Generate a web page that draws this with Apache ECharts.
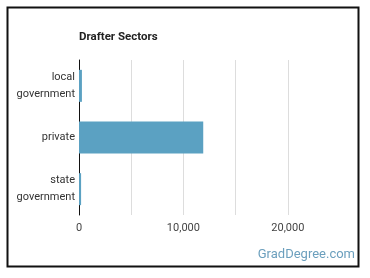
<!DOCTYPE html>
<html>
<head>
<meta charset="utf-8">
<script src="https://cdn.jsdelivr.net/npm/echarts@6/dist/echarts.min.js"></script>
<style>
  html, body { margin: 0; padding: 0; background: #fff; }
  #chart { width: 370px; height: 278px; }
</style>
</head>
<body>
<div id="chart"></div>
<script>
const titleText = "Drafter Sectors";
const sectors = ["local\ngovernment", "private", "state\ngovernment"];
const workers = [280, 11900, 200];
const xMax = 25000;
const xStep = 5000;

const chart = echarts.init(document.getElementById("chart"));

const option = {
  animation: false,
  title: {
    text: titleText,
    left: 79,
    top: 31,
    padding: 0,
    textStyle: { fontFamily: "Roboto", fontSize: 11.5, fontWeight: "bold", color: "#222" },
  },
  graphic: [
    {
      type: "rect",
      shape: { x: 7.5, y: 7.5, width: 351, height: 259 },
      style: { fill: "none", stroke: "#111", lineWidth: 2 },
      silent: true,
    },
    {
      type: "text",
      right: 15,
      top: 248,
      style: { text: "GradDegree.com", font: "13px Roboto", fill: "#6b9fbd" },
    },
  ],
  grid: { left: 79, top: 60, width: 261, height: 155 },
  xAxis: {
    type: "value",
    min: 0,
    max: xMax,
    interval: xStep,
    axisLine: { show: false },
    axisTick: { show: false },
    splitLine: { show: true, showMinLine: false, showMaxLine: false, lineStyle: { color: "#ddd" } },
    axisLabel: {
      color: "#444",
      fontFamily: "Roboto",
      fontSize: 11,
      margin: 8,
      formatter: (v) => (v % 10000 === 0 ? v.toLocaleString("en-US") : ""),
    },
  },
  yAxis: {
    type: "category",
    data: sectors,
    inverse: true,
    axisLine: { show: true, lineStyle: { color: "#111", width: 1 } },
    axisTick: { show: false },
    axisLabel: { color: "#333", fontFamily: "Roboto", fontSize: 11, margin: 4, lineHeight: 17 },
  },
  series: [
    {
      type: "bar",
      data: workers,
      barWidth: 32,
      itemStyle: { color: "#5ba1c2" },
    },
  ],
};

chart.setOption(option);
</script>
</body>
</html>
